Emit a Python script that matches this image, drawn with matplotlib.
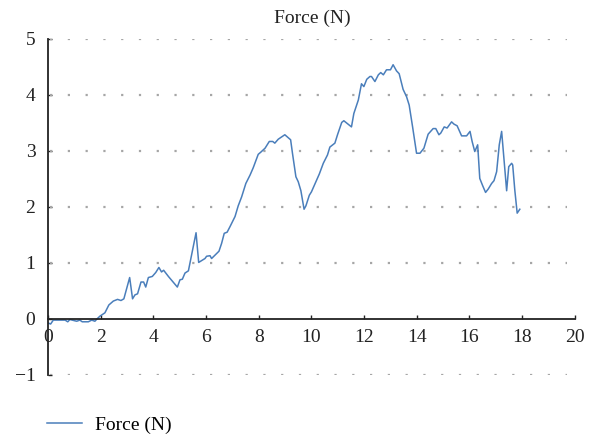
import numpy as np
from matplotlib import pyplot as plt

# time (s) and force (N)
t = [0.0, 0.1, 0.2, 0.4, 0.65, 0.75, 0.83, 1.09, 1.21, 1.3, 1.53, 1.66, 1.78, 1.88, 1.97,
     2.16, 2.31, 2.48, 2.64, 2.77, 2.88, 3.1, 3.21, 3.3, 3.4, 3.53, 3.63, 3.71, 3.81, 3.96,
     4.09, 4.21, 4.31, 4.39, 4.57, 4.73, 4.91, 5.01, 5.1, 5.2, 5.33, 5.62, 5.72, 5.96,
     6.02, 6.15, 6.21, 6.34, 6.49, 6.59, 6.69, 6.8, 6.91, 7.1, 7.22, 7.35, 7.51, 7.67,
     7.79, 7.98, 8.08, 8.24, 8.4, 8.53, 8.61, 8.74, 8.99, 9.21, 9.28, 9.41, 9.5, 9.6,
     9.72, 9.79, 9.92, 10.0, 10.3, 10.45, 10.61, 10.7, 10.89, 10.99, 11.15, 11.23, 11.52,
     11.61, 11.78, 11.9, 11.99, 12.1, 12.22, 12.28, 12.41, 12.54, 12.63, 12.73, 12.85,
     13.0, 13.1, 13.23, 13.33, 13.48, 13.61, 13.71, 13.84, 13.99, 14.12, 14.27, 14.43,
     14.62, 14.72, 14.84, 14.91, 15.04, 15.15, 15.32, 15.41, 15.53, 15.7, 15.89, 16.02,
     16.1, 16.2, 16.31, 16.39, 16.5, 16.61, 16.71, 16.84, 16.93, 17.03, 17.13, 17.22,
     17.28, 17.41, 17.49, 17.6, 17.64, 17.72, 17.81, 17.91]
force = [-0.07, -0.09, -0.02, -0.02, -0.02, -0.05, -0.01, -0.04, -0.02, -0.05, -0.05, -0.02,
         -0.04, 0.01, 0.05, 0.11, 0.25, 0.32, 0.35, 0.33, 0.36, 0.74, 0.36, 0.43, 0.45, 0.66,
         0.66, 0.57, 0.74, 0.76, 0.83, 0.92, 0.84, 0.87, 0.76, 0.67, 0.57, 0.70, 0.71, 0.82,
         0.86, 1.54, 1.01, 1.08, 1.12, 1.13, 1.08, 1.14, 1.21, 1.35, 1.53, 1.55, 1.65, 1.83,
         2.02, 2.18, 2.42, 2.57, 2.70, 2.94, 2.98, 3.05, 3.17, 3.17, 3.14, 3.21, 3.29, 3.2,
         2.96, 2.54, 2.45, 2.29, 1.96, 2.02, 2.21, 2.27, 2.59, 2.78, 2.93, 3.07, 3.14, 3.29,
         3.51, 3.54, 3.43, 3.67, 3.91, 4.2, 4.15, 4.28, 4.33, 4.33, 4.24, 4.36, 4.4, 4.36,
         4.45, 4.45, 4.54, 4.43, 4.38, 4.1, 3.97, 3.82, 3.43, 2.96, 2.96, 3.05, 3.3, 3.4,
         3.4, 3.29, 3.32, 3.43, 3.41, 3.52, 3.48, 3.45, 3.27, 3.27, 3.35, 3.17, 2.99, 3.11,
         2.51, 2.38, 2.26, 2.32, 2.42, 2.47, 2.63, 3.11, 3.35, 3.02, 2.29, 2.72, 2.78, 2.75,
         2.3, 1.89, 1.96]

xticks = np.arange(0, 21, 2)
yticks = [-1, 0, 1, 2, 3, 4, 5]

plt.rcParams['font.family'] = ['Liberation Serif', 'DejaVu Serif']
plt.rcParams['font.size'] = 14

fig = plt.figure(figsize=(5.94, 4.37), dpi=100)
ax = fig.add_axes([0.0808, 0.1419, 0.887, 0.7689])

# dotted gridlines (stop a little short of the right end)
for yv in yticks:
    if yv != 0:
        ax.hlines(yv, 0.08, 19.7, colors='#a6a6a6', linestyles=(0, (1, 7)), linewidth=1.6)

line, = ax.plot(t, force, color='#4a7ebb', linewidth=1.1, label='Force (N)')

ax.set_xlim(0, 20)
ax.set_ylim(-1, 5)
ax.set_xticks(xticks)
ax.set_yticks(yticks)
ax.set_yticklabels(['\u22121', '0', '1', '2', '3', '4', '5'])

ax.spines['top'].set_visible(False)
ax.spines['right'].set_visible(False)
ax.spines['bottom'].set_position(('data', 0))
ax.spines['left'].set_position(('data', 0))
for s in ['bottom', 'left']:
    ax.spines[s].set_color('#222222')
    ax.spines[s].set_linewidth(1.3)
ax.tick_params(axis='x', direction='in', length=3, width=1, colors='#222222', pad=7)
ax.tick_params(axis='y', direction='in', length=3, width=1, colors='#222222', pad=9)
for lab in ax.get_xticklabels() + ax.get_yticklabels():
    lab.set_color('#222222')

fig.text(0.525, 0.958, 'Force (N)', ha='center', va='center', color='#222222')

fig.legend(handles=[line], loc='center left', bbox_to_anchor=(0.072, 0.027),
           frameon=False, handlelength=1.8, handletextpad=0.7, borderaxespad=0,
           borderpad=0.2)

fig.savefig('out.png', dpi=100)
